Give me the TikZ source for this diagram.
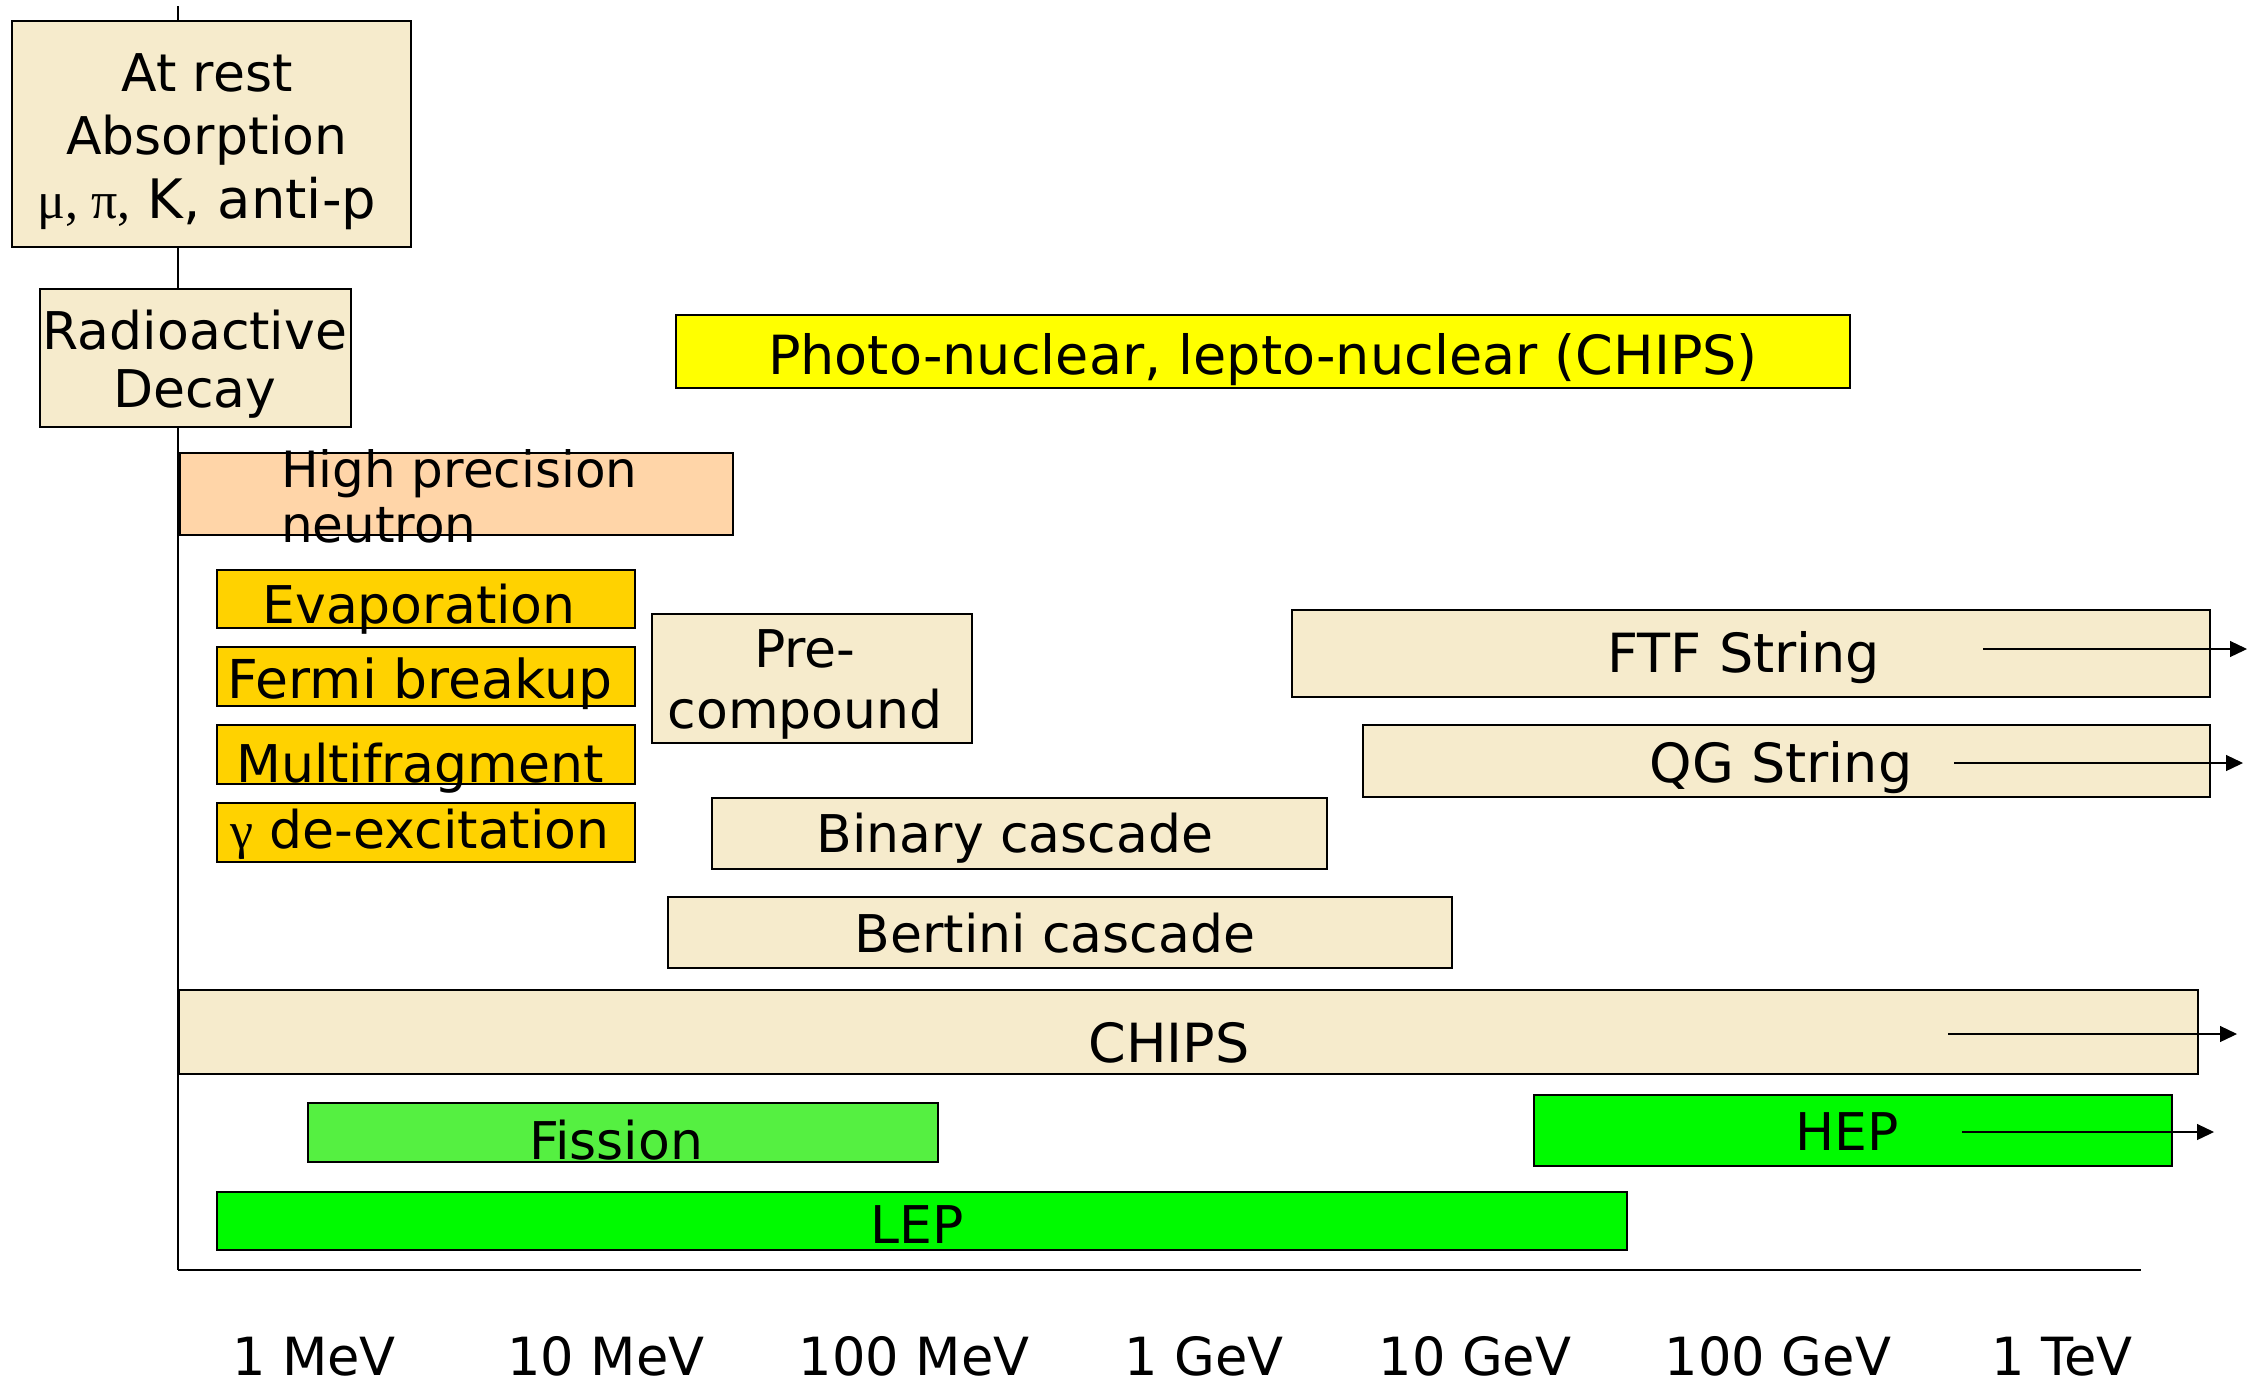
\documentclass[tikz,border=0pt]{standalone}
\usepackage{fontspec}
\setmainfont{DejaVu Sans}
\newfontfamily\grk{Liberation Serif}
\usetikzlibrary{arrows.meta,fit}
\definecolor{beige}{RGB}{246,235,204}
\definecolor{peach}{RGB}{255,213,168}
\definecolor{gold}{RGB}{255,210,0}
\definecolor{yel}{RGB}{255,255,0}
\definecolor{lgreen}{RGB}{85,240,65}
\definecolor{bgreen}{RGB}{0,250,0}
\begin{document}
\begin{tikzpicture}[x=0.5pt,y=-0.5pt,
  bx/.style={draw=black, line width=0.8pt, inner sep=0pt, outer sep=0pt},
  lbl/.style={inner sep=0pt, outer sep=0pt, align=center, font=\fontsize{26}{31}\selectfont},
  big/.style={font=\fontsize{27}{33}\selectfont},
  axl/.style={inner sep=0pt, outer sep=0pt, anchor=base, font=\fontsize{26.3}{31}\selectfont},
  arr/.style={line width=0.6pt, -{Triangle[length=8.5pt,width=8pt]}}]
\useasboundingbox (0,0) rectangle (2249,1382);
% axes
\coordinate (ytop) at (178,6);
\coordinate (orig) at (178,1270);
\coordinate (xend) at (2141,1270);
\draw[line width=0.65pt] (ytop) -- (orig);
\draw[line width=1pt] (orig) -- (xend);
% boxes
\node[bx, fill=beige, fit={(12,21)(411,247)}] (atrest) {};
\node[bx, fill=beige, fit={(40,289)(351,427)}] (radio) {};
\node[bx, fill=yel, fit={(676,315)(1850,388)}] (photo) {};
\node[bx, fill=peach, fit={(180,453)(733,535)}] (hpn) {};
\node[bx, fill=gold, fit={(217,570)(635,628)}] (evap) {};
\node[bx, fill=gold, fit={(217,647)(635,706)}] (fermi) {};
\node[bx, fill=gold, fit={(217,725)(635,784)}] (multi) {};
\node[bx, fill=gold, fit={(217,803)(635,862)}] (gdex) {};
\node[bx, fill=beige, fit={(652,614)(972,743)}] (precomp) {};
\node[bx, fill=beige, fit={(712,798)(1327,869)}] (binary) {};
\node[bx, fill=beige, fit={(668,897)(1452,968)}] (bertini) {};
\node[bx, fill=beige, fit={(1292,610)(2210,697)}] (ftf) {};
\node[bx, fill=beige, fit={(1363,725)(2210,797)}] (qgs) {};
\node[bx, fill=beige, fit={(179,990)(2198,1074)}] (chips) {};
\node[bx, fill=lgreen, fit={(308,1103)(938,1162)}] (fission) {};
\node[bx, fill=bgreen, fit={(1534,1095)(2172,1166)}] (hep) {};
\node[bx, fill=bgreen, fit={(217,1192)(1627,1250)}] (lep) {};
% texts
\node[lbl, font=\fontsize{26}{31.75}\selectfont] (tatrest) at (207,141.8)
  {\strut At rest\\\strut Absorption\\\strut{\grk μ, π,} {\fontsize{27.2}{31.75}\selectfont K, anti-p}};
\node[lbl, font=\fontsize{26}{29}\selectfont] (tradio) at (195,366.4)
  {\strut Radioactive\\\strut Decay};
\node[lbl, font=\fontsize{27}{33}\selectfont] (tphoto) at (1263,360.8)
  {\strut Photo-nuclear, lepto-nuclear (CHIPS)};
\node[lbl, align=left, anchor=west, font=\fontsize{25}{27.5}\selectfont] (thpn) at (281,503.5)
  {\strut High precision\\\strut neutron};
\node[lbl] (tevap) at (419,610.6) {\strut Evaporation};
\node[lbl, font=\fontsize{26.8}{31}\selectfont] (tfermi) at (420,685.6) {\strut Fermi breakup};
\node[lbl] (tmulti) at (420,769.6) {\strut Multifragment};
\node[lbl] (tgdex) at (420,835.6) {\strut{\grk γ} de-excitation};
\node[lbl, font=\fontsize{26}{30.5}\selectfont] (tprecomp) at (805,685.3)
  {\strut Pre-\\\strut compound};
\node[lbl] (tbinary) at (1015,839.6) {\strut Binary cascade};
\node[lbl] (tbertini) at (1055,939.6) {\strut Bertini cascade};
\node[lbl, big] (tftf) at (1744,658.8) {\strut FTF String};
\node[lbl, big] (tqgs) at (1781,768.8) {\strut QG String};
\node[lbl, big] (tchips) at (1169,1048.8) {\strut CHIPS};
\node[lbl] (tfission) at (616,1146.6) {\strut Fission};
\node[lbl] (thep) at (1847,1137.6) {\strut HEP};
\node[lbl] (tlep) at (917,1230.6) {\strut LEP};
% arrows
\coordinate (ftfa) at (1983,649);  \coordinate (ftfb) at (2247,649);
\coordinate (qga) at (1954,763);   \coordinate (qgb) at (2243,763);
\coordinate (cha) at (1948,1034);  \coordinate (chb) at (2237,1034);
\coordinate (hepa) at (1962,1132); \coordinate (hepb) at (2214,1132);
\draw[arr] (ftfa) -- (ftfb);
\draw[arr] (qga) -- (qgb);
\draw[arr] (cha) -- (chb);
\draw[arr] (hepa) -- (hepb);
% axis labels
\node[axl] (l1) at (314,1375) {1 MeV};
\node[axl] (l2) at (606,1375) {10 MeV};
\node[axl] (l3) at (914,1375) {100 MeV};
\node[axl] (l4) at (1204,1375) {1 GeV};
\node[axl] (l5) at (1475,1375) {10 GeV};
\node[axl] (l6) at (1778,1375) {100 GeV};
\node[axl] (l7) at (2062,1375) {1 TeV};
\end{tikzpicture}
\end{document}
